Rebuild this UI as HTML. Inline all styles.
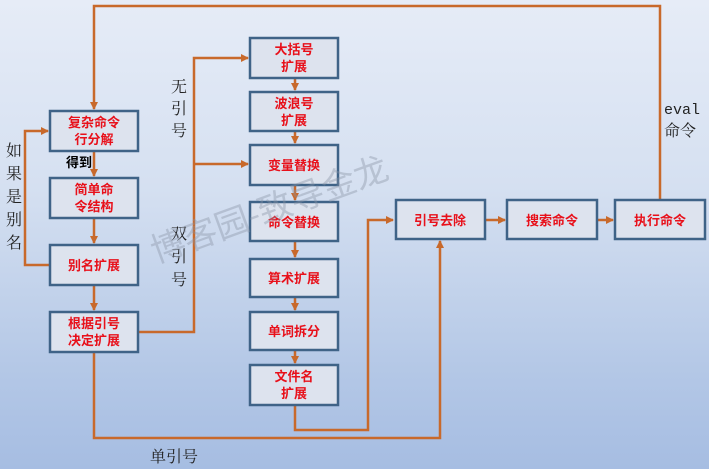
<!DOCTYPE html>
<html><head><meta charset="utf-8"><style>
html,body{margin:0;padding:0;width:709px;height:469px;overflow:hidden}
body{background:linear-gradient(#e6ecf7 0%,#d5e0f1 40%,#b3c7e6 80%,#a6bde2 100%)}
svg{display:block}
.b{fill:#dde3ee;stroke:#3f6387;stroke-width:2.5}
.t{font-family:"Liberation Sans","Noto Sans CJK SC",sans-serif;font-size:13px;font-weight:bold;fill:#e8101a;text-anchor:middle}
.l{fill:none;stroke:#c8692b;stroke-width:2.5}
.k{font-family:"Liberation Serif","Noto Serif CJK SC",serif;font-size:16px;fill:#222}
</style></head><body>
<svg width="709" height="469" viewBox="0 0 709 469">
<defs><marker id="a" markerWidth="8" markerHeight="8" refX="7" refY="4" orient="auto" markerUnits="userSpaceOnUse"><path d="M0,0 L8,4 L0,8z" fill="#c8692b"/></marker></defs>
<!-- lines -->
<polyline class="l" points="660,200 660,6 94,6 94,109" marker-end="url(#a)"/>
<polyline class="l" points="50,265 25,265 25,131 48,131" marker-end="url(#a)"/>
<line class="l" x1="94" y1="151" x2="94" y2="176" marker-end="url(#a)"/>
<line class="l" x1="94" y1="218" x2="94" y2="243" marker-end="url(#a)"/>
<line class="l" x1="94" y1="285" x2="94" y2="310" marker-end="url(#a)"/>
<polyline class="l" points="138,332 194,332 194,58 248,58" marker-end="url(#a)"/>
<line class="l" x1="194" y1="164" x2="248" y2="164" marker-end="url(#a)"/>
<line class="l" x1="295" y1="78" x2="295" y2="90" marker-end="url(#a)"/>
<line class="l" x1="295" y1="131" x2="295" y2="143" marker-end="url(#a)"/>
<line class="l" x1="295" y1="185" x2="295" y2="200" marker-end="url(#a)"/>
<line class="l" x1="295" y1="241" x2="295" y2="257" marker-end="url(#a)"/>
<line class="l" x1="295" y1="297" x2="295" y2="310" marker-end="url(#a)"/>
<line class="l" x1="295" y1="350" x2="295" y2="363" marker-end="url(#a)"/>
<polyline class="l" points="94,352 94,438 440,438 440,241" marker-end="url(#a)"/>
<polyline class="l" points="295,398 295,430 368,430 368,220 393,220" marker-end="url(#a)"/>
<line class="l" x1="485" y1="220" x2="505" y2="220" marker-end="url(#a)"/>
<line class="l" x1="597" y1="220" x2="613" y2="220" marker-end="url(#a)"/>
<!-- boxes -->
<rect class="b" x="50" y="111" width="88" height="40"/>
<text class="t" x="94" y="127">复杂命令</text><text class="t" x="94" y="144">行分解</text>
<rect class="b" x="50" y="178" width="88" height="40"/>
<text class="t" x="94" y="194">简单命</text><text class="t" x="94" y="211">令结构</text>
<rect class="b" x="50" y="245" width="88" height="40"/>
<text class="t" x="94" y="270">别名扩展</text>
<rect class="b" x="50" y="312" width="88" height="40"/>
<text class="t" x="94" y="328">根据引号</text><text class="t" x="94" y="345">决定扩展</text>
<rect class="b" x="250" y="38" width="88" height="40"/>
<text class="t" x="294" y="54">大括号</text><text class="t" x="294" y="71">扩展</text>
<rect class="b" x="250" y="92" width="88" height="39"/>
<text class="t" x="294" y="108">波浪号</text><text class="t" x="294" y="125">扩展</text>
<rect class="b" x="250" y="145" width="88" height="40"/>
<text class="t" x="294" y="170">变量替换</text>
<rect class="b" x="250" y="202" width="88" height="39"/>
<text class="t" x="294" y="227">命令替换</text>
<rect class="b" x="250" y="259" width="88" height="38"/>
<text class="t" x="294" y="283">算术扩展</text>
<rect class="b" x="250" y="312" width="88" height="38"/>
<text class="t" x="294" y="336">单词拆分</text>
<rect class="b" x="250" y="365" width="88" height="40"/>
<text class="t" x="294" y="381">文件名</text><text class="t" x="294" y="398">扩展</text>
<rect class="b" x="396" y="200" width="89" height="39"/>
<text class="t" x="440" y="225">引号去除</text>
<rect class="b" x="507" y="200" width="90" height="39"/>
<text class="t" x="552" y="225">搜索命令</text>
<rect class="b" x="615" y="200" width="90" height="39"/>
<text class="t" x="660" y="225">执行命令</text>
<!-- labels -->
<text x="66" y="167" font-family="'Noto Sans CJK SC',sans-serif" font-size="13" font-weight="bold" fill="#000">得到</text>
<g class="k">
<text x="6" y="156">如</text><text x="6" y="179">果</text><text x="6" y="202">是</text><text x="6" y="225">别</text><text x="6" y="248">名</text>
<text x="171" y="92">无</text><text x="171" y="114">引</text><text x="171" y="136">号</text>
<text x="171" y="239">双</text><text x="171" y="262">引</text><text x="171" y="285">号</text>
<text x="150" y="462">单引号</text>
<text x="664" y="114" font-family="'Liberation Mono',monospace" font-size="15">eval</text>
<text x="664" y="136">命令</text>
</g>
<text x="130" y="215" transform="rotate(-20 280 165)" font-family="'Noto Sans CJK SC',sans-serif" font-size="34" fill="#8a94a4" fill-opacity="0.4">博客园-致导金龙</text>
</svg>
</body></html>
